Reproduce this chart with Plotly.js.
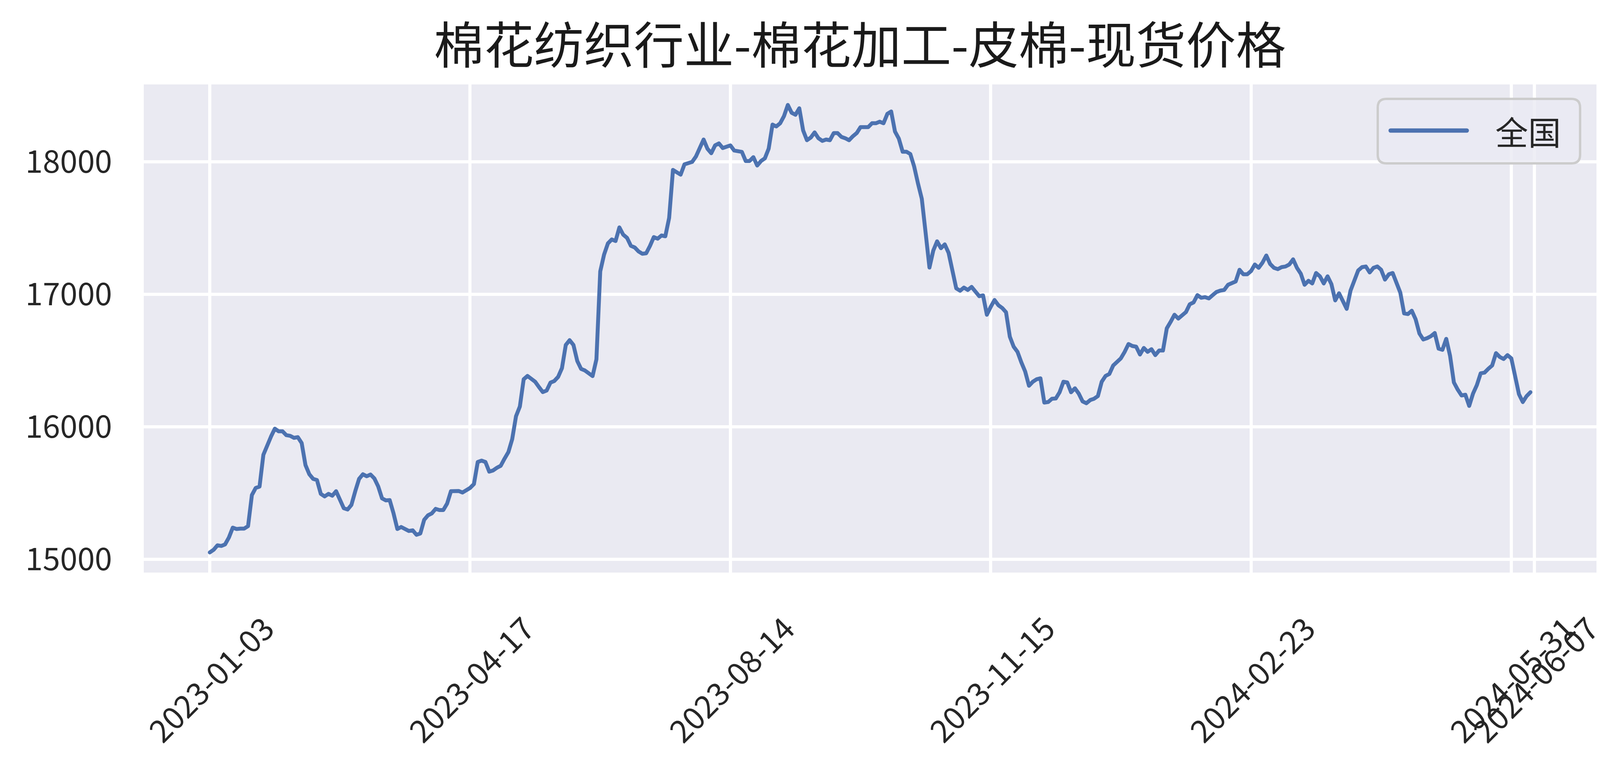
<!DOCTYPE html>
<html>
<head>
<meta charset="utf-8">
<script src="https://cdn.plot.ly/plotly-3.0.1.min.js"></script>
<style>
  html, body { margin: 0; padding: 0; background: #fff; }
  #chart { width: 4177px; height: 1988px; }
</style>
</head>
<body>
<div id="chart"></div>
<script>
// Cotton lint spot price, national average. One value per trading day, x is the row index.
const seriesName = "全国";
const prices = [
  15052, 15072, 15106, 15101, 15113, 15165, 15239, 15229, 15232, 15232,
  15251, 15485, 15539, 15549, 15789, 15868, 15927, 15986, 15966, 15966,
  15937, 15932, 15917, 15922, 15878, 15711, 15642, 15607, 15598, 15494,
  15475, 15494, 15480, 15514, 15445, 15386, 15376, 15411, 15514, 15607,
  15642, 15627, 15640, 15610, 15550, 15460, 15445, 15447, 15347, 15229,
  15244, 15229, 15214, 15219, 15185, 15195, 15298, 15332, 15347, 15381,
  15372, 15372, 15421, 15514, 15516, 15516, 15504, 15519, 15539, 15568,
  15735, 15745, 15735, 15662, 15671, 15691, 15706, 15760, 15809, 15907,
  16080, 16153, 16359, 16384, 16359, 16340, 16300, 16262, 16274, 16334,
  16346, 16377, 16443, 16618, 16654, 16618, 16497, 16437, 16425, 16401,
  16383, 16509, 17173, 17300, 17384, 17414, 17402, 17505, 17450, 17426,
  17366, 17354, 17324, 17306, 17310, 17366, 17432, 17420, 17444, 17438,
  17577, 17939, 17921, 17903, 17981, 17987, 17999, 18040, 18110, 18168,
  18099, 18065, 18124, 18139, 18104, 18114, 18124, 18085, 18080, 18075,
  18006, 18006, 18035, 17972, 18006, 18026, 18099, 18281, 18267, 18291,
  18345, 18429, 18370, 18355, 18404, 18237, 18163, 18183, 18222, 18178,
  18158, 18168, 18163, 18217, 18217, 18188, 18178, 18163, 18193, 18217,
  18262, 18262, 18262, 18291, 18291, 18303, 18291, 18362, 18380, 18228,
  18175, 18076, 18076, 18059, 17965, 17837, 17721, 17464, 17202, 17330,
  17400, 17348, 17377, 17313, 17173, 17045, 17027, 17051, 17033, 17056,
  17021, 16986, 16992, 16846, 16905, 16957, 16918, 16897, 16865, 16680,
  16605, 16566, 16487, 16418, 16310, 16340, 16359, 16366, 16183, 16187,
  16212, 16214, 16261, 16340, 16335, 16261, 16291, 16251, 16192, 16178,
  16202, 16212, 16232, 16340, 16384, 16399, 16463, 16487, 16517, 16566,
  16625, 16610, 16605, 16546, 16595, 16566, 16586, 16541, 16576, 16576,
  16743, 16792, 16846, 16817, 16841, 16866, 16925, 16939, 16994, 16974,
  16979, 16969, 16994, 17018, 17028, 17033, 17072, 17082, 17097, 17185,
  17151, 17151, 17175, 17225, 17200, 17239, 17293, 17229, 17200, 17190,
  17205, 17210, 17225, 17264, 17200, 17156, 17072, 17102, 17082, 17161,
  17136, 17082, 17136, 17077, 16954, 17008, 16949, 16890, 17028, 17107,
  17180, 17205, 17210, 17165, 17200, 17210, 17185, 17111, 17151, 17161,
  17077, 17013, 16856, 16851, 16876, 16812, 16704, 16659, 16669, 16684,
  16708, 16590, 16581, 16664, 16536, 16335, 16281, 16237, 16242, 16158,
  16251, 16315, 16404, 16409, 16438, 16463, 16556, 16527, 16512, 16541,
  16517, 16369, 16246, 16187, 16232, 16261,
];
// Tick rows and their date labels (every 68th row, plus one past the last row).
const tickRows = [0, 68, 136, 204, 272, 340, 346];
const tickDates = ["2023-01-03", "2023-04-17", "2023-08-14", "2023-11-15", "2024-02-23", "2024-05-31", "2024-06-07"];
const yTicks = [15000, 16000, 17000, 18000];

const W = 4177, H = 1988;
// plot box in pixels
const PL = 368, PR = 4087, PT = 216, PB = 1465;
const fx = (x) => (x - PL) / (PR - PL);
const fy = (y) => (PB - y) / (PB - PT);

const FONT = "'Noto Sans CJK SC', 'Noto Sans', sans-serif";
const INK = "#262626";
const BLUE = "#4C72B0";

// rounded legend frame, matplotlib style
function roundRectPath(x0, y0, x1, y1, r) {
  const L = fx(x0), R = fx(x1), T = fy(y0), B = fy(y1);
  const rx = r / (PR - PL), ry = r / (PB - PT);
  return `M${L + rx},${T} L${R - rx},${T} Q${R},${T} ${R},${T - ry} L${R},${B + ry} Q${R},${B} ${R - rx},${B}` +
    ` L${L + rx},${B} Q${L},${B} ${L},${B + ry} L${L},${T - ry} Q${L},${T} ${L + rx},${T} Z`;
}

const x = prices.map((_, i) => i);

const tickAnnotations = tickRows.map((row, k) => ({
  x: row, xref: "x", y: fy(1735), yref: "paper",
  text: tickDates[k], textangle: -45, showarrow: false,
  xanchor: "center", yanchor: "middle",
  font: { family: FONT, size: 80, color: INK },
}));

const legendY = fy(334);

const layout = {
  width: W, height: H,
  margin: { l: PL, r: W - PR, t: PT, b: H - PB, pad: 0 },
  paper_bgcolor: "#ffffff",
  plot_bgcolor: "#EAEAF2",
  font: { family: FONT, size: 80, color: INK },
  showlegend: false,
  title: {
    text: "棉花纺织行业-棉花加工-皮棉-现货价格",
    font: { family: FONT, size: 128, color: "#1a1a1a" },
    x: 0.493, xref: "paper", xanchor: "center",
    y: 1 - 118 / H, yref: "container", yanchor: "middle",
  },
  xaxis: {
    range: [-17.25, 362.25],
    tickmode: "array", tickvals: tickRows, showticklabels: false,
    showgrid: true, gridcolor: "#ffffff", gridwidth: 8,
    zeroline: false, showline: false, ticks: "",
  },
  yaxis: {
    range: [14900, 18584],
    tickmode: "array", tickvals: yTicks, tickformat: "d",
    tickfont: { family: FONT, size: 80, color: INK },
    ticklabelstandoff: 80,
    showgrid: true, gridcolor: "#ffffff", gridwidth: 8,
    zeroline: false, showline: false, ticks: "",
  },
  shapes: [
    {
      type: "path", xref: "paper", yref: "paper", layer: "above",
      path: roundRectPath(3527, 253, 4045, 418, 22),
      fillcolor: "rgba(234,234,242,0.8)",
      line: { color: "#cccccc", width: 6 },
    },
    {
      type: "line", xref: "paper", yref: "paper", layer: "above",
      x0: fx(3560), x1: fx(3755), y0: legendY, y1: legendY,
      line: { color: BLUE, width: 11 },
    },
  ],
  annotations: [
    ...tickAnnotations,
    {
      x: fx(3826), xref: "paper", y: legendY, yref: "paper",
      text: seriesName, showarrow: false, xanchor: "left", yanchor: "middle",
      font: { family: FONT, size: 84, color: INK },
    },
  ],
};

const traces = [{
  x, y: prices, name: seriesName, type: "scatter", mode: "lines",
  line: { color: BLUE, width: 10 },
  hoverinfo: "skip",
}];

Plotly.newPlot("chart", traces, layout, { displayModeBar: false, staticPlot: true }).then(() => {
  // matplotlib draws round joins; Plotly leaves miter joins
  document.querySelectorAll(".scatterlayer path.js-line").forEach((p) => {
    p.style.strokeLinejoin = "round";
    p.style.strokeLinecap = "round";
  });
  document.querySelectorAll(".shapelayer path").forEach((p) => {
    p.style.strokeLinecap = "round";
  });
});
</script>
</body>
</html>
